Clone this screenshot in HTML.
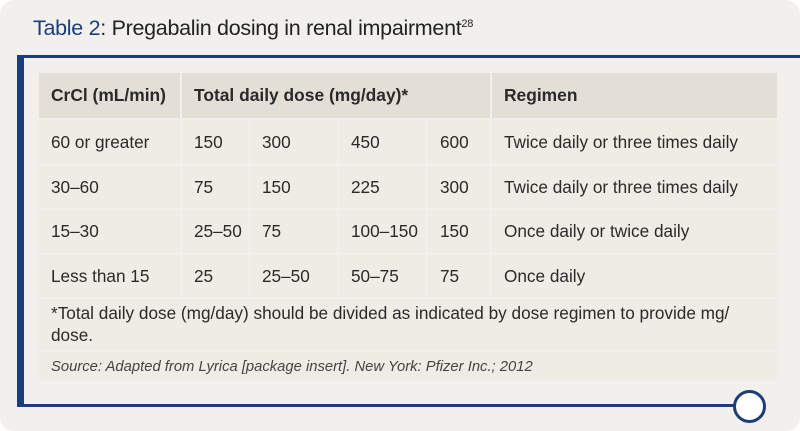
<!DOCTYPE html>
<html><head><meta charset="utf-8"><style>
body{margin:0;width:800px;height:431px;background:#fff;overflow:hidden;font-family:"Liberation Sans",sans-serif;}
#card{position:absolute;left:0;top:0;width:800px;height:431px;background:#f2f0ec;border-radius:14px;}
.c{position:absolute;background:#efece6;color:#2a2a2a;font-size:17.2px;display:flex;align-items:center;padding-left:12px;box-sizing:border-box;white-space:nowrap;}
.h{background:#e3dfd7;font-weight:bold;font-size:17.4px;}
</style></head><body>
<div id="card">
<div style="position:absolute;left:33px;top:16px;font-size:21.5px;color:#222;letter-spacing:-0.3px"><span style="color:#1f3d7a">Table 2</span>: Pregabalin dosing in renal impairment<sup style="font-size:11px">28</sup></div>
<div style="position:absolute;left:17px;top:55px;width:783px;height:3px;background:#1d3c78"></div>
<div style="position:absolute;left:17px;top:55px;width:7px;height:352px;background:#1d3c78"></div>
<div style="position:absolute;left:17px;top:404px;width:734px;height:3px;background:#1d3c78"></div>
<div style="position:absolute;left:733px;top:390px;width:27px;height:27px;border:3px solid #1d3c78;border-radius:50%;background:#fff"></div>
<div id="tbl" style="position:absolute;left:0;top:0;width:800px;height:431px;background:transparent"></div>
</div>
<script>
var cols=[39,182,250,339,428,492,777];
var rows=[[73,118],[120,164],[166,208],[210,253],[255,297]];
var header=["CrCl (mL/min)","Total daily dose (mg/day)*","Regimen"];
var body=[["60 or greater","150","300","450","600","Twice daily or three times daily"],
["30–60","75","150","225","300","Twice daily or three times daily"],
["15–30","25–50","75","100–150","150","Once daily or twice daily"],
["Less than 15","25","25–50","50–75","75","Once daily"]];
var tbl=document.getElementById('tbl');
function cell(x1,x2,y1,y2,t,cls,name){var d=document.createElement('div');d.className='c '+(cls||'');
d.style.left=x1+'px';d.style.top=y1+'px';d.style.width=(x2-x1)+'px';d.style.height=(y2-y1)+'px';d.textContent=t;


tbl.appendChild(d);return d;}
cell(cols[0],cols[1]-2,73,118,header[0],'h','header-crcl');
cell(cols[1],cols[5]-2,73,118,header[1],'h','header-total-dose');
cell(cols[5],cols[6],73,118,header[2],'h','header-regimen');
body.forEach(function(r,i){r.forEach(function(t,j){cell(cols[j],j==5?cols[6]:cols[j+1]-2,rows[i+1][0],rows[i+1][1],t,'','cell-r'+(i+1)+'-c'+(j+1));});});
var f=cell(39,777,299,350,'','','footnote');
f.innerHTML='*Total daily dose (mg/day) should be divided as indicated by dose regimen to provide mg/<br>dose.';
f.style.lineHeight='22px';f.style.whiteSpace='normal';f.style.display='block';f.style.paddingTop='3px';
var s=cell(39,777,352,381,'Source: Adapted from Lyrica [package insert]. New York: Pfizer Inc.; 2012','','source-note');
s.style.fontStyle='italic';s.style.fontSize='14.8px';s.style.color='#444';
</script>
</body></html>
